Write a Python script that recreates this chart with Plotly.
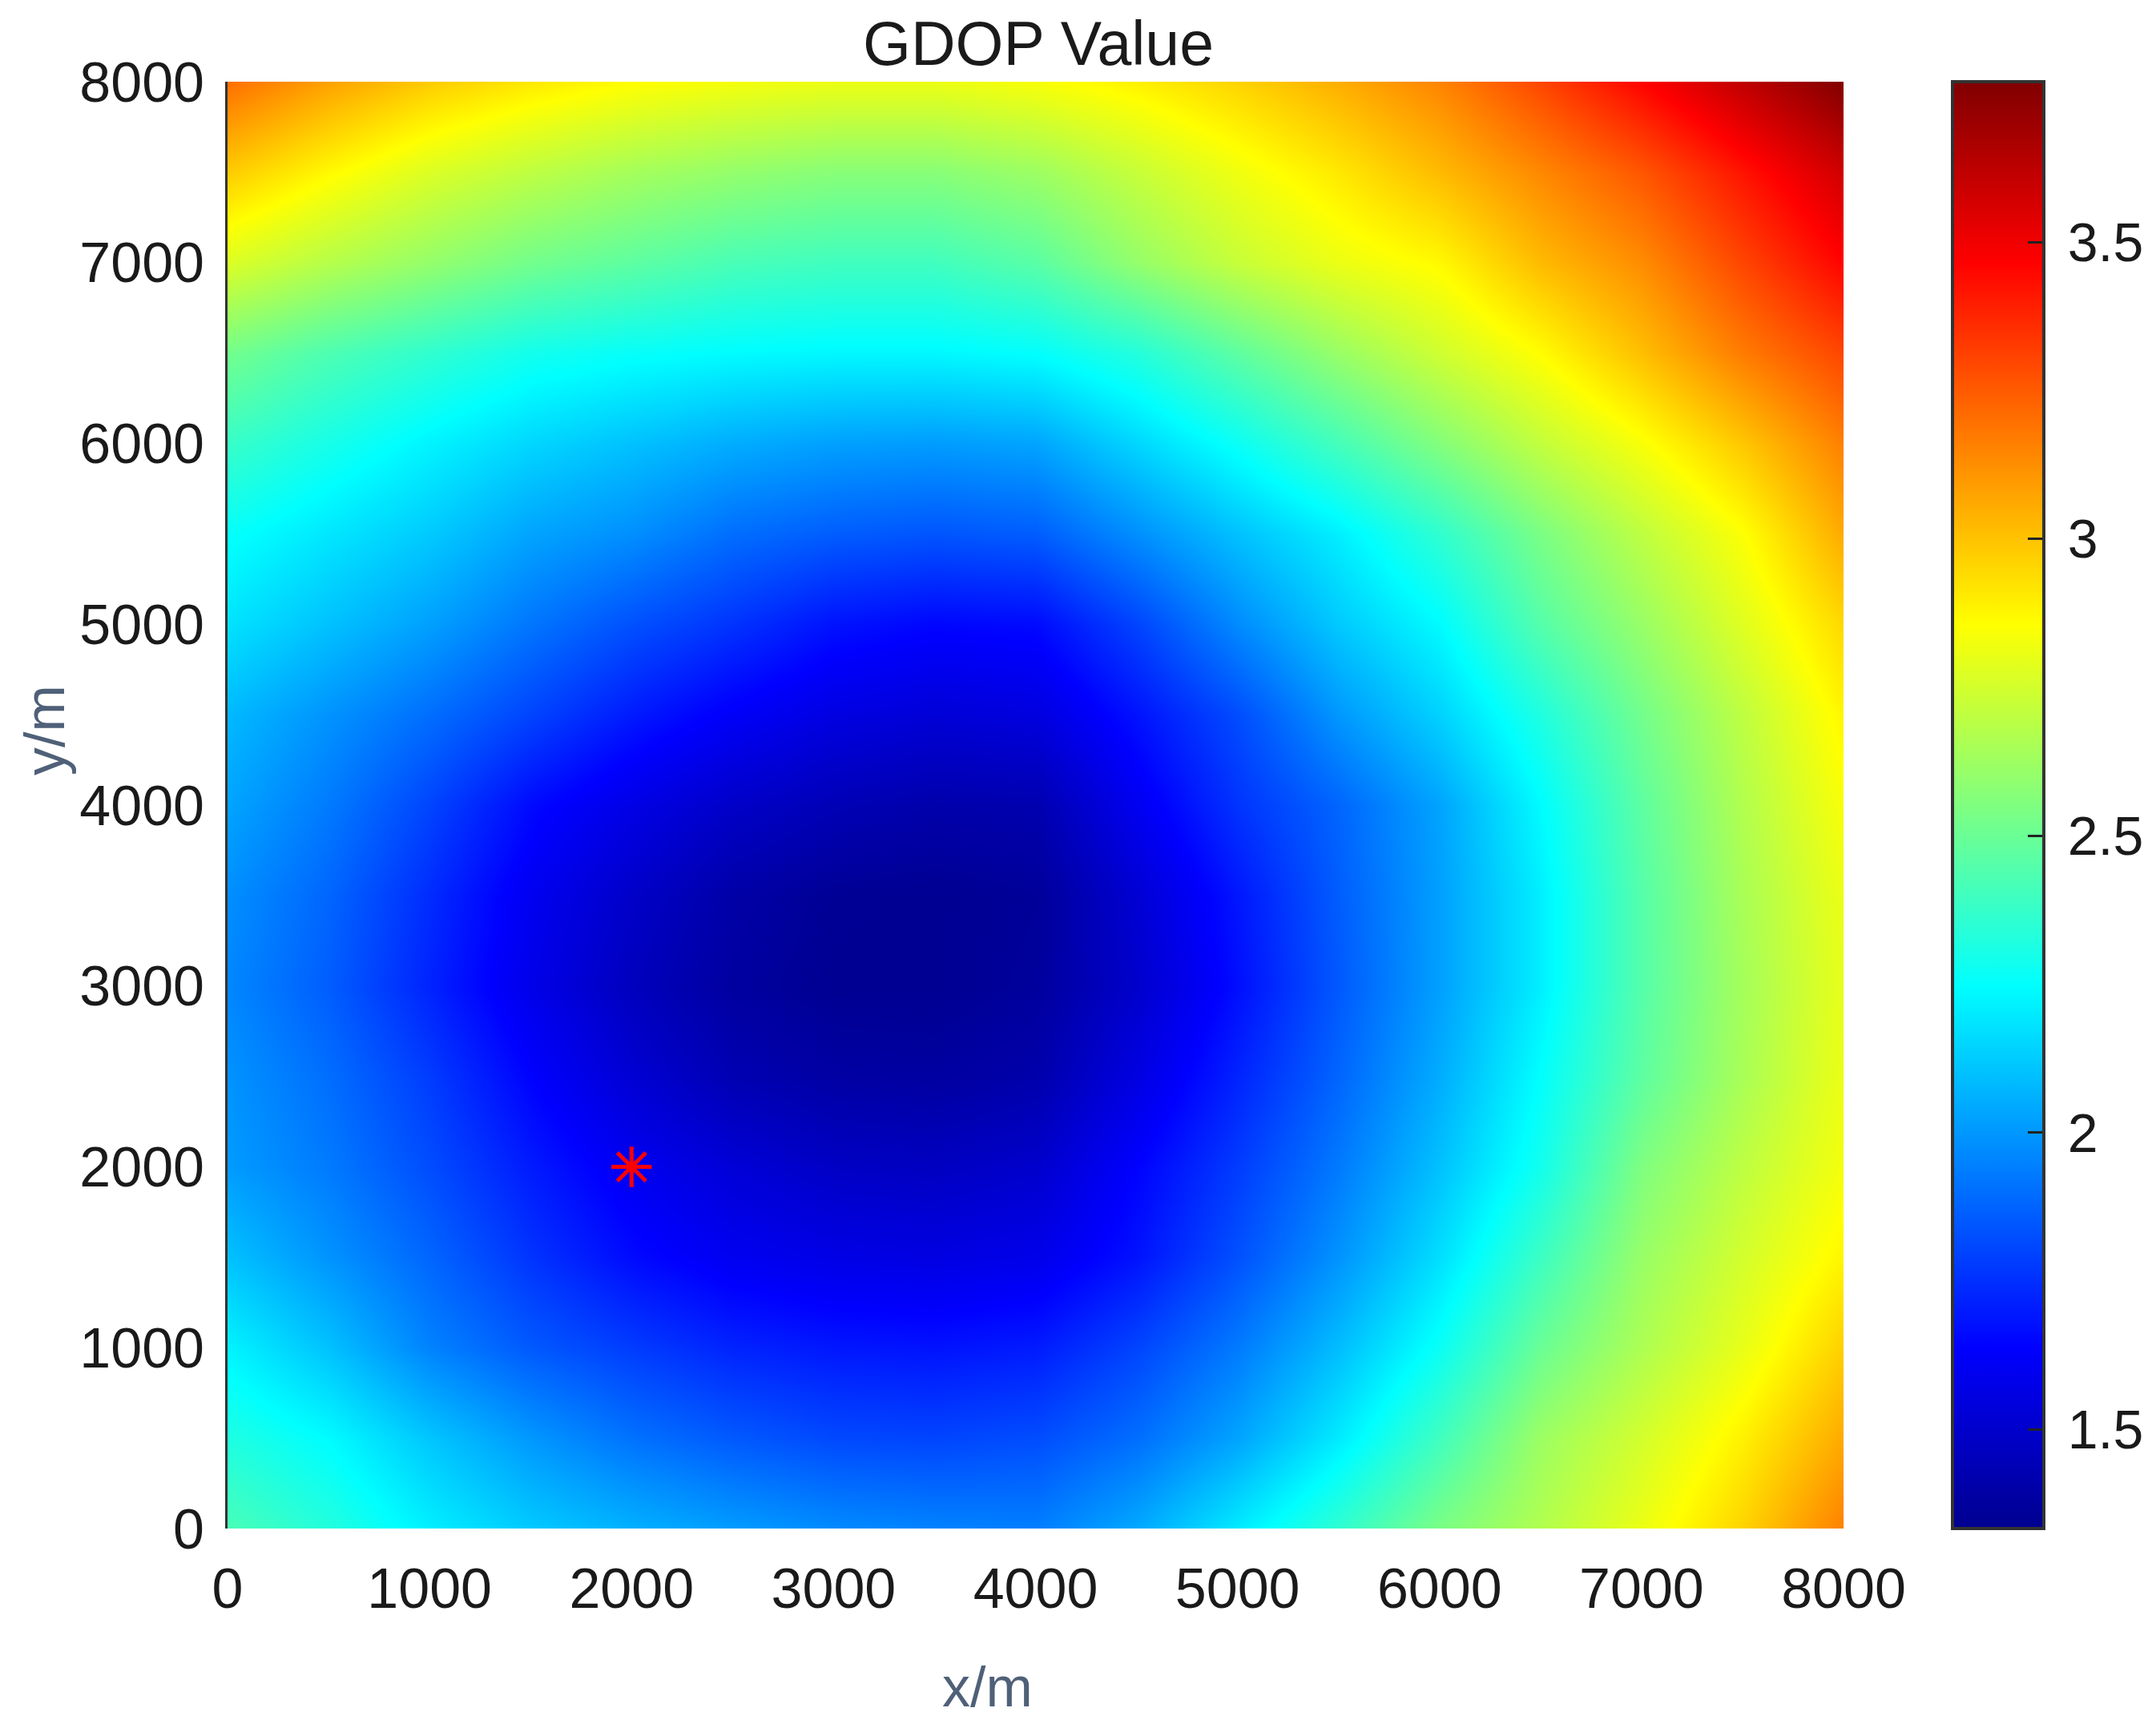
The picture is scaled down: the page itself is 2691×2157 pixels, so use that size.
import plotly.graph_objects as go

# ---- data ----
x_m = [0, 500, 1000, 1500, 2000, 2500, 3000, 3500, 4000,
       4500, 5000, 5500, 6000, 6500, 7000, 7500, 8000]
y_m = [0, 500, 1000, 1500, 2000, 2500, 3000, 3500, 4000,
       4500, 5000, 5500, 6000, 6500, 7000, 7500, 8000]

# GDOP values, one list per y row (x = 0 ... 8000, step 500)
gdop_y0    = [2.42, 2.33, 2.21, 2.12, 2.06, 2.01, 1.97, 1.95, 1.94, 2.04, 2.20, 2.36, 2.54, 2.67, 2.81, 2.96, 3.16]
gdop_y500  = [2.32, 2.24, 2.11, 2.00, 1.91, 1.85, 1.81, 1.80, 1.82, 1.90, 2.03, 2.20, 2.40, 2.62, 2.75, 2.89, 3.06]
gdop_y1000 = [2.22, 2.10, 1.95, 1.85, 1.78, 1.72, 1.69, 1.68, 1.70, 1.80, 1.93, 2.09, 2.27, 2.50, 2.66, 2.80, 2.97]
gdop_y1500 = [2.10, 1.99, 1.88, 1.76, 1.66, 1.60, 1.57, 1.56, 1.58, 1.68, 1.83, 1.99, 2.17, 2.39, 2.61, 2.75, 2.88]
gdop_y2000 = [2.01, 1.93, 1.82, 1.70, 1.60, 1.53, 1.48, 1.47, 1.50, 1.64, 1.78, 1.93, 2.10, 2.29, 2.55, 2.70, 2.83]
gdop_y2500 = [1.99, 1.90, 1.78, 1.64, 1.52, 1.43, 1.39, 1.38, 1.41, 1.56, 1.72, 1.88, 2.05, 2.25, 2.47, 2.65, 2.81]
gdop_y3000 = [1.96, 1.86, 1.72, 1.58, 1.46, 1.38, 1.34, 1.34, 1.37, 1.50, 1.67, 1.85, 2.02, 2.21, 2.45, 2.64, 2.80]
gdop_y3500 = [1.98, 1.88, 1.74, 1.60, 1.49, 1.40, 1.35, 1.34, 1.36, 1.52, 1.69, 1.86, 2.02, 2.21, 2.45, 2.65, 2.81]
gdop_y4000 = [2.03, 1.93, 1.80, 1.66, 1.57, 1.49, 1.44, 1.41, 1.42, 1.60, 1.76, 1.88, 2.03, 2.24, 2.47, 2.67, 2.84]
gdop_y4500 = [2.08, 1.99, 1.90, 1.80, 1.70, 1.62, 1.56, 1.53, 1.55, 1.68, 1.82, 2.00, 2.14, 2.32, 2.52, 2.70, 2.88]
gdop_y5000 = [2.18, 2.10, 2.02, 1.92, 1.83, 1.76, 1.68, 1.65, 1.66, 1.80, 1.97, 2.12, 2.24, 2.45, 2.61, 2.78, 2.95]
gdop_y5500 = [2.26, 2.19, 2.12, 2.03, 1.98, 1.90, 1.86, 1.84, 1.86, 1.98, 2.10, 2.21, 2.36, 2.54, 2.70, 2.85, 3.06]
gdop_y6000 = [2.38, 2.30, 2.22, 2.15, 2.10, 2.05, 2.02, 2.01, 2.03, 2.15, 2.27, 2.41, 2.56, 2.71, 2.84, 2.99, 3.16]
gdop_y6500 = [2.52, 2.43, 2.36, 2.29, 2.26, 2.24, 2.23, 2.23, 2.25, 2.33, 2.47, 2.61, 2.74, 2.86, 3.01, 3.17, 3.30]
gdop_y7000 = [2.77, 2.68, 2.60, 2.52, 2.47, 2.42, 2.40, 2.40, 2.46, 2.60, 2.72, 2.81, 2.87, 3.02, 3.13, 3.30, 3.46]
gdop_y7500 = [2.98, 2.87, 2.77, 2.70, 2.64, 2.60, 2.57, 2.57, 2.62, 2.72, 2.82, 2.91, 3.02, 3.14, 3.26, 3.42, 3.58]
gdop_y8000 = [3.20, 3.08, 2.98, 2.91, 2.86, 2.83, 2.81, 2.81, 2.84, 2.89, 2.96, 3.05, 3.15, 3.30, 3.46, 3.62, 3.77]

point_x = [2000]
point_y = [2000]

axis_ticks = [0, 1000, 2000, 3000, 4000, 5000, 6000, 7000, 8000]
cbar_ticks = [1.5, 2, 2.5, 3, 3.5]
cbar_labels = ["1.5", "2", "2.5", "3", "3.5"]
z_min, z_max = 1.333, 3.77

z = [gdop_y0, gdop_y500, gdop_y1000, gdop_y1500, gdop_y2000, gdop_y2500,
     gdop_y3000, gdop_y3500, gdop_y4000, gdop_y4500, gdop_y5000, gdop_y5500,
     gdop_y6000, gdop_y6500, gdop_y7000, gdop_y7500, gdop_y8000]

jet = [
    [0.0, "rgb(0,0,143)"],
    [0.125, "rgb(0,0,255)"],
    [0.375, "rgb(0,255,255)"],
    [0.625, "rgb(255,255,0)"],
    [0.875, "rgb(255,0,0)"],
    [1.0, "rgb(128,0,0)"],
]

# page coordinates (the html body adds an 8 px offset)
OFF = 8
W, H = 2691 - 2 * OFF, 2157 - 2 * OFF
L, R, T, B = 284, 2301, 102, 1908   # plot area in window pixels
font_family = "Liberation Sans, Arial, sans-serif"
txt = "#1a1a1a"
lab = "#4f6078"
sp = "\u2009"

fig = go.Figure()
fig.add_trace(go.Heatmap(
    x=x_m, y=y_m, z=z, zsmooth="best", colorscale=jet,
    zmin=z_min, zmax=z_max,
    colorbar=dict(
        x=(2437 - L) / (R - L), xanchor="left", xpad=0,
        y=0.5, yanchor="middle", len=1, lenmode="fraction", ypad=0,
        thickness=114, outlinewidth=4, outlinecolor="#333333",
        tickvals=cbar_ticks, ticktext=[sp + t for t in cbar_labels],
        ticks="inside", ticklen=22, tickwidth=3, tickcolor="#222222",
        tickfont=dict(size=68, color=txt, family=font_family),
    ),
))
fig.add_trace(go.Scatter(
    x=point_x, y=point_y, mode="markers",
    marker=dict(symbol="asterisk-open", size=42, color="red",
                line=dict(color="red", width=5)),
    showlegend=False,
))

fig.update_layout(
    width=W, height=H,
    margin=dict(l=L - OFF, r=W - (R - OFF), t=T - OFF, b=H - (B - OFF),
                autoexpand=False),
    paper_bgcolor="white", plot_bgcolor="white",
    showlegend=False,
    font=dict(family=font_family, color=txt),
    xaxis=dict(range=[0, 8000], tickvals=axis_ticks, ticks="",
               showgrid=False, zeroline=False, showline=False,
               ticklabelstandoff=28,
               tickfont=dict(size=70, color=txt, family=font_family)),
    yaxis=dict(range=[0, 8000], tickvals=axis_ticks, ticks="",
               showgrid=False, zeroline=False,
               showline=True, linecolor="#333333", linewidth=3,
               ticklabelstandoff=12,
               tickfont=dict(size=70, color=txt, family=font_family)),
    annotations=[
        dict(text="GDOP Value", x=(1296 - L) / (R - L), y=1 + (T - 54) / (B - T),
             xref="paper", yref="paper", xanchor="center", yanchor="middle",
             showarrow=False, font=dict(size=77, color=txt, family=font_family)),
        dict(text="x/m", x=(1232 - L) / (R - L), y=-(2106 - B) / (B - T),
             xref="paper", yref="paper", xanchor="center", yanchor="middle",
             showarrow=False, font=dict(size=70, color=lab, family=font_family)),
        dict(text="y/m", x=-(L - 56) / (R - L), y=(B - 912) / (B - T),
             xref="paper", yref="paper", xanchor="center", yanchor="middle",
             textangle=-90, showarrow=False,
             font=dict(size=70, color=lab, family=font_family)),
    ],
)

fig.write_html("out.html")
